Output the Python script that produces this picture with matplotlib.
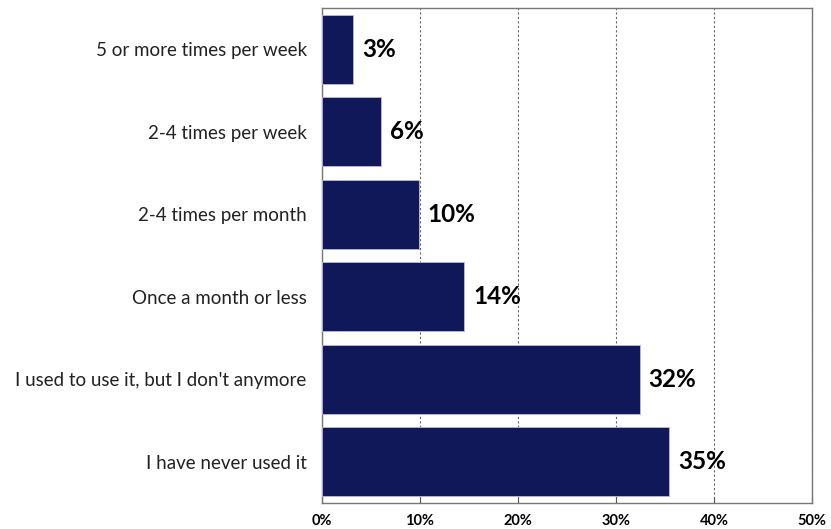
import numpy as np
import matplotlib.pyplot as plt
import matplotlib

matplotlib.rc('font', family=['Lato', 'DejaVu Sans'])

categories = ['5 or more times per week', '2-4 times per week', '2-4 times per month',
              'Once a month or less', "I used to use it, but I don't anymore",
              'I have never used it']
values = [3.2, 6.0, 9.9, 14.5, 32.4, 35.4]
labels = ['3%', '6%', '10%', '14%', '32%', '35%']
xticks = [0, 10, 20, 30, 40, 50]

fig = plt.figure(figsize=(8.31, 5.29), dpi=100)
ax = fig.add_axes([322/831, 1 - 503/529, (812 - 322)/831, (503 - 8)/529])

y = np.arange(len(categories))
ax.barh(y, values, height=0.84, color='#10185a', edgecolor='#b8bce0', linewidth=0.6, zorder=3)
for yi, v, lab in zip(y, values, labels):
    ax.text(v + 0.9, yi, lab, va='center', ha='left', fontsize=17.5, fontweight='bold', color='black')

ax.set_ylim(len(categories) - 0.5, -0.5)
ax.set_xlim(0, 50)
ax.set_yticks(y)
ax.set_yticklabels(categories, fontsize=13.5, color='#222222')
ax.set_xticks(xticks)
ax.set_xticklabels(['%d%%' % t for t in xticks], fontsize=10.5, fontweight='bold')
ax.tick_params(axis='y', length=0, pad=11)
ax.tick_params(axis='x', direction='in', length=4, color='#555555', pad=8)
ax.grid(True, axis='x', linestyle=(0, (2, 2)), color='#666666', linewidth=0.8, zorder=0)
for s in ax.spines.values():
    s.set_color('#777777')
    s.set_linewidth(1.0)

plt.savefig('out.png', dpi=100)
